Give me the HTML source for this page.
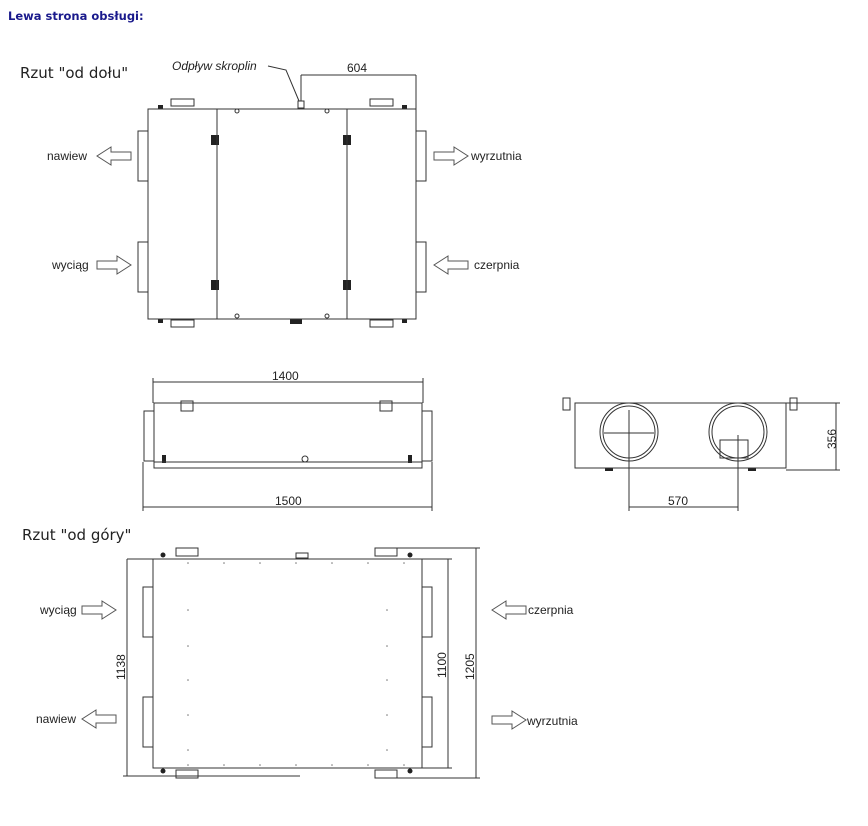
<!DOCTYPE html>
<html><head><meta charset="utf-8"><style>
body{margin:0;background:#fff;width:868px;height:826px;overflow:hidden}
svg{display:block}
text{font-family:"Liberation Sans",sans-serif;fill:#222}
</style></head><body>
<svg width="868" height="826" viewBox="0 0 868 826" xmlns="http://www.w3.org/2000/svg">
<defs>
<symbol id="ar" viewBox="0 0 34 18" overflow="visible"><path d="M0 5 H20 V0 L34 9 L20 18 V13 H0 Z" fill="#fff" stroke="#555" stroke-width="1"/></symbol>
<symbol id="al" viewBox="0 0 34 18" overflow="visible"><path d="M34 5 H14 V0 L0 9 L14 18 V13 H34 Z" fill="#fff" stroke="#555" stroke-width="1"/></symbol>
</defs>
<text x="8" y="20" font-size="11.5" font-weight="bold" style="fill:#1a1a8c;font-family:'DejaVu Sans',sans-serif">Lewa strona obsługi:</text>
<text x="20" y="78" font-size="15" style="font-family:'DejaVu Sans',sans-serif">Rzut "od dołu"</text>
<text x="22" y="540" font-size="15" style="font-family:'DejaVu Sans',sans-serif">Rzut "od góry"</text>
<g fill="#222">
<rect x="211" y="135" width="8" height="10"/><rect x="343" y="135" width="8" height="10"/>
<rect x="211" y="280" width="8" height="10"/><rect x="343" y="280" width="8" height="10"/>
<rect x="158" y="105" width="5" height="4"/><rect x="402" y="105" width="5" height="4"/>
<rect x="158" y="319" width="5" height="4"/><rect x="402" y="319" width="5" height="4"/>
<rect x="290" y="319" width="12" height="5"/>
<rect x="162" y="455" width="4" height="8"/><rect x="408" y="455" width="4" height="8"/>
<circle cx="163" cy="555" r="2.5"/><circle cx="410" cy="555" r="2.5"/>
<circle cx="163" cy="771" r="2.5"/><circle cx="410" cy="771" r="2.5"/>
<rect x="605" y="468" width="8" height="3"/><rect x="748" y="468" width="8" height="3"/>
</g>
<g fill="#777">
<circle cx="188" cy="563" r="0.8"/><circle cx="224" cy="563" r="0.8"/><circle cx="260" cy="563" r="0.8"/><circle cx="296" cy="563" r="0.8"/><circle cx="332" cy="563" r="0.8"/><circle cx="368" cy="563" r="0.8"/><circle cx="404" cy="563" r="0.8"/>
<circle cx="188" cy="765" r="0.8"/><circle cx="224" cy="765" r="0.8"/><circle cx="260" cy="765" r="0.8"/><circle cx="296" cy="765" r="0.8"/><circle cx="332" cy="765" r="0.8"/><circle cx="368" cy="765" r="0.8"/><circle cx="404" cy="765" r="0.8"/>
<circle cx="188" cy="610" r="0.8"/><circle cx="188" cy="646" r="0.8"/><circle cx="188" cy="680" r="0.8"/><circle cx="188" cy="715" r="0.8"/><circle cx="188" cy="750" r="0.8"/>
<circle cx="387" cy="610" r="0.8"/><circle cx="387" cy="646" r="0.8"/><circle cx="387" cy="680" r="0.8"/><circle cx="387" cy="715" r="0.8"/><circle cx="387" cy="750" r="0.8"/>
</g>
<g fill="none" stroke="#333" stroke-width="1">
<rect x="148" y="109" width="268" height="210"/>
<line x1="217" y1="109" x2="217" y2="319"/><line x1="347" y1="109" x2="347" y2="319"/>
<rect x="138" y="131" width="10" height="50"/><rect x="138" y="242" width="10" height="50"/>
<rect x="416" y="131" width="10" height="50"/><rect x="416" y="242" width="10" height="50"/>
<rect x="171" y="99" width="23" height="7"/><rect x="370" y="99" width="23" height="7"/>
<rect x="171" y="320" width="23" height="7"/><rect x="370" y="320" width="23" height="7"/>
<rect x="298" y="101" width="6" height="7"/>
<line x1="301" y1="101" x2="301" y2="75"/><line x1="301" y1="75" x2="416" y2="75"/><line x1="416" y1="75" x2="416" y2="109"/>
<polyline points="268,66 286,70 299,101"/>
<circle cx="237" cy="111" r="2"/><circle cx="327" cy="111" r="2"/><circle cx="237" cy="316" r="2"/><circle cx="327" cy="316" r="2"/>
<rect x="154" y="403" width="268" height="65"/>
<line x1="154" y1="462" x2="422" y2="462"/>
<rect x="144" y="411" width="10" height="50"/><rect x="422" y="411" width="10" height="50"/>
<line x1="153" y1="382" x2="423" y2="382"/><line x1="153" y1="378" x2="153" y2="403"/><line x1="423" y1="378" x2="423" y2="403"/>
<line x1="143" y1="507" x2="432" y2="507"/><line x1="143" y1="462" x2="143" y2="511"/><line x1="432" y1="462" x2="432" y2="511"/>
<circle cx="305" cy="459" r="3"/>
<rect x="181" y="401" width="12" height="10"/><rect x="380" y="401" width="12" height="10"/>
<rect x="575" y="403" width="211" height="65"/>
<circle cx="629" cy="432" r="29"/><circle cx="629" cy="432" r="26"/>
<line x1="604" y1="433" x2="654" y2="433"/>
<circle cx="738" cy="432" r="29"/><circle cx="738" cy="432" r="26"/>
<line x1="629" y1="410" x2="629" y2="511"/><line x1="738" y1="435" x2="738" y2="511"/>
<line x1="629" y1="507" x2="738" y2="507"/>
<line x1="786" y1="403" x2="840" y2="403"/><line x1="786" y1="470" x2="840" y2="470"/><line x1="836" y1="403" x2="836" y2="470"/>
<rect x="563" y="398" width="7" height="12"/><rect x="790" y="398" width="7" height="12"/>
<rect x="720" y="440" width="28" height="18"/>
<rect x="153" y="559" width="269" height="209"/>
<rect x="143" y="587" width="10" height="50"/><rect x="143" y="697" width="10" height="50"/>
<rect x="422" y="587" width="10" height="50"/><rect x="422" y="697" width="10" height="50"/>
<rect x="176" y="548" width="22" height="8"/><rect x="375" y="548" width="22" height="8"/>
<rect x="176" y="770" width="22" height="8"/><rect x="375" y="770" width="22" height="8"/>
<rect x="296" y="553" width="12" height="5"/>
<line x1="127" y1="559" x2="153" y2="559"/><line x1="123" y1="776" x2="300" y2="776"/><line x1="127" y1="559" x2="127" y2="776"/>
<line x1="422" y1="559" x2="452" y2="559"/><line x1="422" y1="768" x2="452" y2="768"/><line x1="448" y1="559" x2="448" y2="768"/>
<line x1="397" y1="548" x2="480" y2="548"/><line x1="397" y1="778" x2="480" y2="778"/><line x1="476" y1="548" x2="476" y2="778"/>
</g>
<g font-size="12">
<text x="172" y="70" font-style="italic">Odpływ skroplin</text>
<text x="347" y="72">604</text>
<text x="47" y="160">nawiew</text>
<text x="52" y="269">wyciąg</text>
<text x="471" y="160">wyrzutnia</text>
<text x="474" y="269">czerpnia</text>
<text x="272" y="380">1400</text>
<text x="275" y="505">1500</text>
<text x="668" y="505">570</text>
<text x="40" y="614">wyciąg</text>
<text x="36" y="723">nawiew</text>
<text x="528" y="614">czerpnia</text>
<text x="527" y="725">wyrzutnia</text>
<text transform="translate(836,449) rotate(-90)">356</text>
<text transform="translate(125,680) rotate(-90)">1138</text>
<text transform="translate(446,678) rotate(-90)">1100</text>
<text transform="translate(474,680) rotate(-90)">1205</text>
</g>
<use href="#al" x="97" y="147" width="34" height="18"/>
<use href="#ar" x="97" y="256" width="34" height="18"/>
<use href="#ar" x="434" y="147" width="34" height="18"/>
<use href="#al" x="434" y="256" width="34" height="18"/>
<use href="#ar" x="82" y="601" width="34" height="18"/>
<use href="#al" x="82" y="710" width="34" height="18"/>
<use href="#al" x="492" y="601" width="34" height="18"/>
<use href="#ar" x="492" y="711" width="34" height="18"/>
</svg>
</body></html>
